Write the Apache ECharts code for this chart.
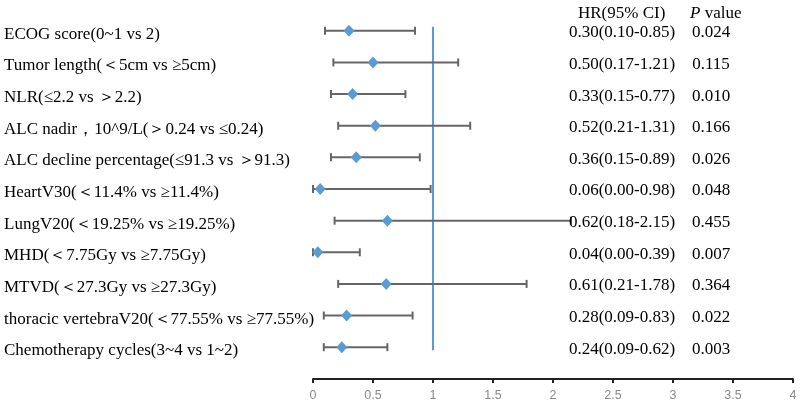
<!DOCTYPE html>
<html>
<head>
<meta charset="utf-8">
<script src="https://cdn.jsdelivr.net/npm/echarts@6/dist/echarts.min.js"></script>
<style>html,body{margin:0;padding:0;background:#fff}#chart{width:800px;height:407px}</style>
</head>
<body>
<div id="chart"></div>
<script>
const labels = [
  'ECOG score(0~1 vs 2)',
  'Tumor length(＜5cm vs ≥5cm)',
  'NLR(≤2.2 vs ＞2.2)',
  'ALC nadir，10^9/L(＞0.24 vs ≤0.24)',
  'ALC decline percentage(≤91.3 vs ＞91.3)',
  'HeartV30(＜11.4% vs ≥11.4%)',
  'LungV20(＜19.25% vs ≥19.25%)',
  'MHD(＜7.75Gy vs ≥7.75Gy)',
  'MTVD(＜27.3Gy vs ≥27.3Gy)',
  'thoracic vertebraV20(＜77.55% vs ≥77.55%)',
  'Chemotherapy cycles(3~4 vs 1~2)'
];
const hr    = [0.30, 0.50, 0.33, 0.52, 0.36, 0.06, 0.62, 0.04, 0.61, 0.28, 0.24];
const lower = [0.10, 0.17, 0.15, 0.21, 0.15, 0.00, 0.18, 0.00, 0.21, 0.09, 0.09];
const upper = [0.85, 1.21, 0.77, 1.31, 0.89, 0.98, 2.15, 0.39, 1.78, 0.83, 0.62];
const pValues = ['0.024','0.115','0.010','0.166','0.026','0.048','0.455','0.007','0.364','0.022','0.003'];
const xTicks = [0, 0.5, 1, 1.5, 2, 2.5, 3, 3.5, 4];
const refValue = 1;

const hrText = hr.map((v, i) => v.toFixed(2) + '(' + lower[i].toFixed(2) + '-' + upper[i].toFixed(2) + ')');

const serif = '"Liberation Serif", "Times New Roman", "Noto Serif", serif';
const blue = '#5B9BD5';
const gray = '#666666';

const chart = echarts.init(document.getElementById('chart'));
chart.setOption({
  animation: false,
  grid: { left: 313, right: 7, top: 15, height: 348 },
  xAxis: {
    type: 'value', min: xTicks[0], max: xTicks[xTicks.length - 1], interval: 0.5,
    offset: 16,
    axisLine: { show: true, lineStyle: { color: '#222', width: 2 } },
    axisTick: { show: true, length: 4, lineStyle: { color: '#222', width: 2 } },
    axisLabel: { color: '#8a8a8a', fontSize: 12.5, margin: 10, fontFamily: '"Liberation Sans", Arial, sans-serif',
      formatter: v => String(v) },
    splitLine: { show: false }
  },
  yAxis: {
    type: 'category', inverse: true, data: labels,
    axisLine: { show: false }, axisTick: { show: false },
    axisLabel: { align: 'left', margin: 309, color: '#000', fontSize: 17, fontFamily: serif, lineHeight: 7,
      verticalAlign: 'top' }
  },
  series: [
    {
      type: 'custom', name: 'ref', data: [[refValue]],
      renderItem: function (params, api) {
        const top = api.coord([refValue, 0]);
        const bot = api.coord([refValue, labels.length - 1]);
        return { type: 'line', shape: { x1: top[0], y1: top[1] - 4, x2: bot[0], y2: bot[1] + 3 },
          style: { stroke: blue, lineWidth: 2 } };
      },
      z: 1
    },
    {
      type: 'custom', name: 'ci',
      data: labels.map((l, i) => [lower[i], upper[i], i]),
      renderItem: function (params, api) {
        const p1 = api.coord([api.value(0), api.value(2)]);
        const p2 = api.coord([api.value(1), api.value(2)]);
        const h = 4;
        const st = { stroke: gray, lineWidth: 2 };
        return { type: 'group', children: [
          { type: 'line', shape: { x1: p1[0], y1: p1[1], x2: p2[0], y2: p2[1] }, style: st },
          { type: 'line', shape: { x1: p1[0], y1: p1[1] - h, x2: p1[0], y2: p1[1] + h }, style: st },
          { type: 'line', shape: { x1: p2[0], y1: p2[1] - h, x2: p2[0], y2: p2[1] + h }, style: st }
        ] };
      },
      z: 2
    },
    {
      type: 'scatter', name: 'HR',
      data: hr.map((v, i) => [v, i]),
      symbol: 'diamond', symbolSize: [11, 12],
      itemStyle: { color: blue, opacity: 1 },
      z: 3
    },
    {
      type: 'custom', name: 'text',
      data: labels.map((l, i) => [0, i]),
      renderItem: function (params, api) {
        const i = api.value(1);
        const y = api.coord([0, i])[1] + 2;
        return { type: 'group', children: [
          { type: 'text', x: 622, y: y, style: { text: hrText[i], fill: '#000', font: '17px ' + serif, align: 'center', verticalAlign: 'middle' } },
          { type: 'text', x: 711, y: y, style: { text: pValues[i], fill: '#000', font: '17px ' + serif, align: 'center', verticalAlign: 'middle' } }
        ] };
      },
      z: 4
    }
  ],
  graphic: [
    { type: 'text', left: 578, top: 5, style: { text: 'HR(95% CI)', fill: '#000', font: '17px ' + serif } },
    { type: 'text', left: 690, top: 5, style: { text: '{i|P} value', fill: '#000', font: '17px ' + serif,
      rich: { i: { fontStyle: 'italic', fontSize: 17, fontFamily: serif } } } }
  ]
});
</script>
</body>
</html>
